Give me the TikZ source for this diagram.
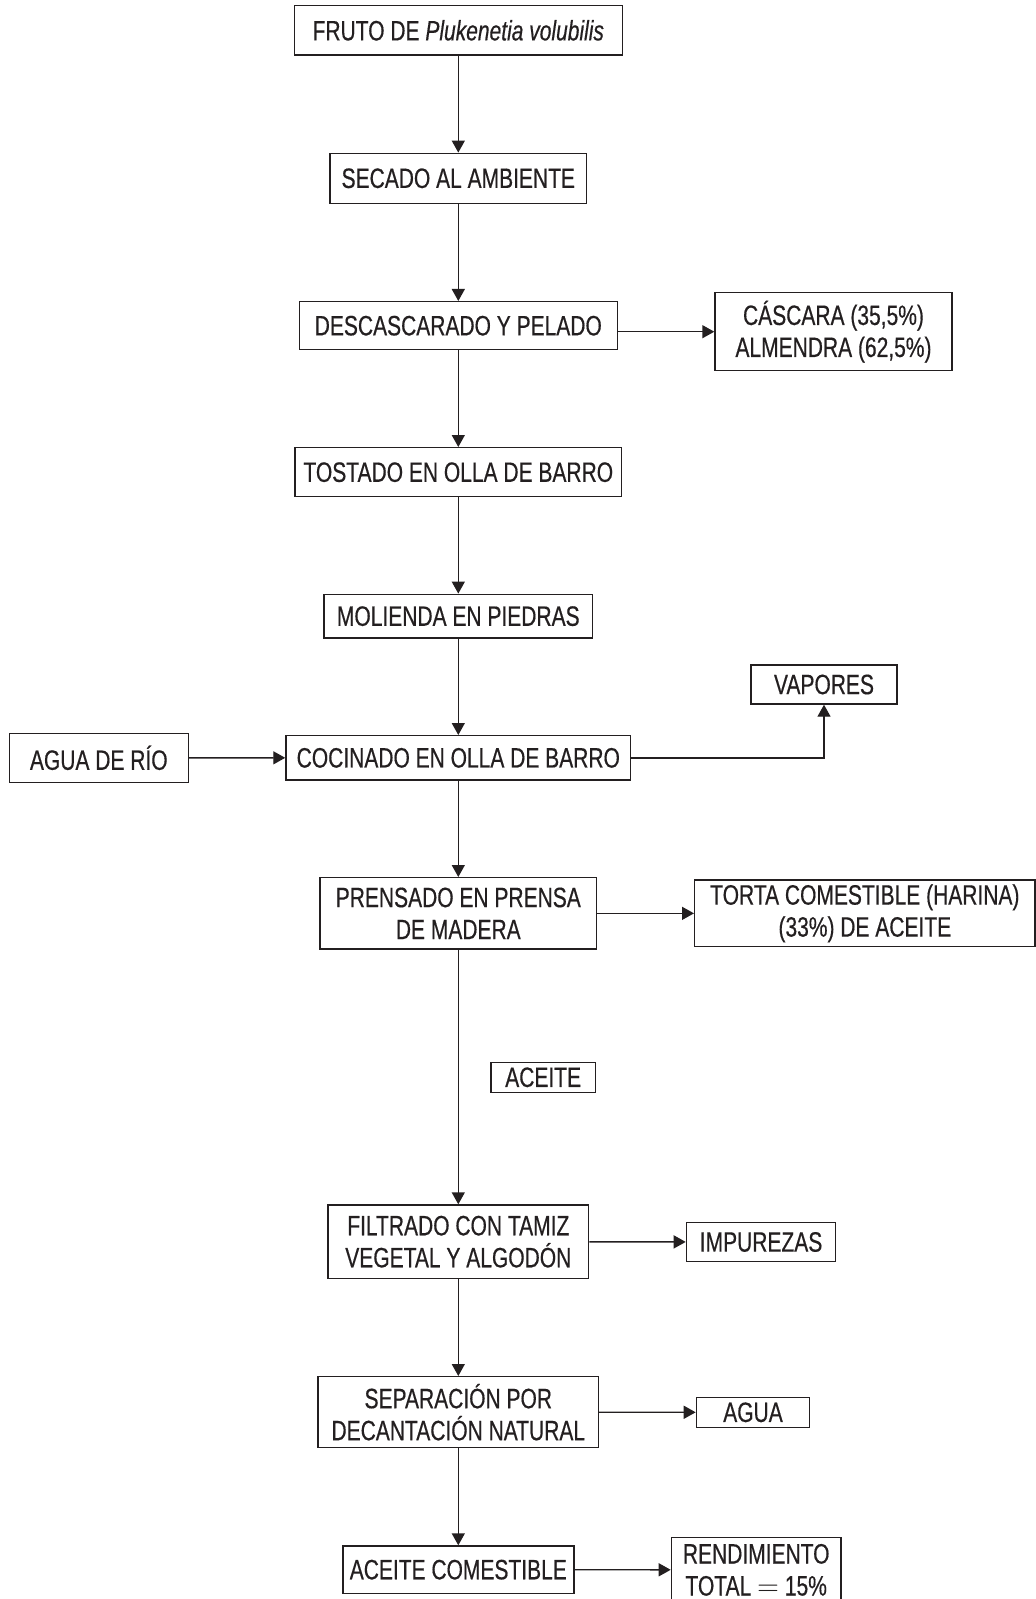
\documentclass[tikz,border=0pt]{standalone}
\usepackage{fontspec}
\setmainfont[FakeStretch=0.75,FakeBold=0.45]{Liberation Sans}
\usetikzlibrary{arrows.meta}
\definecolor{ink}{HTML}{231F20}
\tikzset{
  box/.style={draw=ink, text=ink, line width=0.7pt, inner sep=0pt, align=center,
    font=\fontsize{14}{16}\selectfont},
  arr/.style={draw=ink, line width=0.7pt, -{Triangle[length=6pt,width=6.5pt]}},
}
\begin{document}
\begin{tikzpicture}[x=0.5pt,y=-0.5pt]
\useasboundingbox (0,0) rectangle (1036,1599);
\node[box, minimum width=164pt, minimum height=24.65pt] (fruto) at (458.3,30.35) {FRUTO DE \textit{Plukenetia volubilis}};
\node[box, minimum width=128.35pt, minimum height=25pt] (secado) at (458.3,178.3) {SECADO AL AMBIENTE};
\node[box, minimum width=159pt, minimum height=24pt] (desc) at (458.3,325.7) {DESCASCARADO Y PELADO};
\node[box, minimum width=118.5pt, minimum height=39pt] (cas) at (833.5,331.7) {CÁSCARA (35,5\%)\\ALMENDRA (62,5\%)};
\node[box, minimum width=163.35pt, minimum height=24.5pt] (tost) at (458.3,472.2) {TOSTADO EN OLLA DE BARRO};
\node[box, minimum width=134.35pt, minimum height=21.85pt] (mol) at (458.3,616.15) {MOLIENDA EN PIEDRAS};
\node[box, minimum width=73pt, minimum height=19.5pt] (vap) at (824,684.5) {VAPORES};
\node[box, minimum width=89.5pt, minimum height=24.5pt] (aguario) at (98.8,757.8) {AGUA DE RÍO};
\node[box, minimum width=172.35pt, minimum height=22.15pt] (coc) at (458.3,757.85) {COCINADO EN OLLA DE BARRO};
\node[box, minimum width=138.35pt, minimum height=35.65pt] (prens) at (458.3,913.35) {PRENSADO EN PRENSA\\DE MADERA};
\node[box, minimum width=170.15pt, minimum height=33.35pt] (torta) at (864.85,913.35) {TORTA COMESTIBLE (HARINA)\\(33\%) DE ACEITE};
\node[box, minimum width=52.15pt, minimum height=15pt] (aceite) at (543.15,1077.3) {ACEITE};
\node[box, minimum width=130.35pt, minimum height=36.65pt] (filt) at (458.3,1241.65) {FILTRADO CON TAMIZ\\VEGETAL Y ALGODÓN};
\node[box, minimum width=74.65pt, minimum height=19.7pt] (imp) at (761.05,1242) {IMPUREZAS};
\node[box, minimum width=140.15pt, minimum height=35.5pt] (sep) at (458.3,1412.2) {SEPARACIÓN POR\\DECANTACIÓN NATURAL};
\node[box, minimum width=56.6pt, minimum height=15pt] (agua) at (753,1412.3) {AGUA};
\node[box, minimum width=115.5pt, minimum height=23.65pt] (acom) at (458.3,1569.65) {ACEITE COMESTIBLE};
\node[box, minimum width=84.8pt, minimum height=32.15pt] (rend) at (756.2,1569.85) {RENDIMIENTO\\TOTAL $=$ 15\%};

\draw[arr] (fruto) -- (secado);
\draw[arr] (secado) -- (desc);
\draw[arr] (cas.west -| desc.east) -- (cas.west);
\draw[arr] (desc) -- (tost);
\draw[arr] (tost) -- (mol);
\draw[arr] (mol) -- (coc);
\draw[arr] (aguario) -- (coc);
\draw[arr] (coc.east) -| (vap.south);
\draw[arr] (coc) -- (prens);
\draw[arr] (prens) -- (torta);
\draw[arr] (prens) -- (filt);
\draw[arr] (filt) -- (imp);
\draw[arr] (filt) -- (sep);
\draw[arr] (sep) -- (agua);
\draw[arr] (sep) -- (acom);
\draw[arr] (acom) -- (rend);
\end{tikzpicture}
\end{document}
